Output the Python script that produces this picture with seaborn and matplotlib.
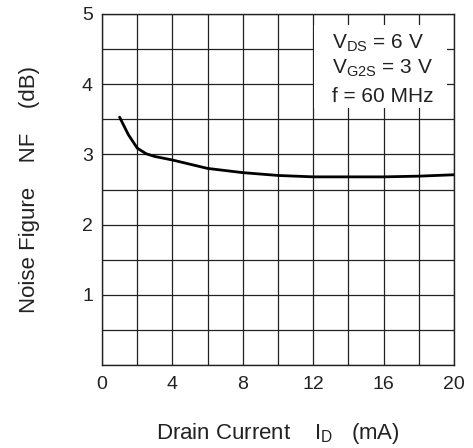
import numpy as np
import pandas as pd
import seaborn as sns
import matplotlib.pyplot as plt
from matplotlib.patches import Rectangle

sns.set_style("white")
plt.rcParams['font.family'] = ['Liberation Sans', 'DejaVu Sans']
plt.rcParams['mathtext.fontset'] = 'custom'
plt.rcParams['mathtext.rm'] = 'Liberation Sans'
plt.rcParams['mathtext.it'] = 'Liberation Sans'

# values
drain_current = [1.0, 1.5, 2.0, 2.5, 3.0, 4.0, 5.0, 6.0, 8.0, 10.0, 12.0, 14.0, 16.0, 18.0, 20.0]
noise_figure = [3.53, 3.28, 3.09, 3.01, 2.97, 2.92, 2.86, 2.80, 2.74, 2.70, 2.68, 2.68, 2.68, 2.69, 2.71]
x_ticks = [0, 4, 8, 12, 16, 20]
y_ticks = [1, 2, 3, 4, 5]

df = pd.DataFrame({"ID": drain_current, "NF": noise_figure})

fig = plt.figure(figsize=(4.73, 4.48), dpi=100)
ax = fig.add_axes([0.2156, 0.185, 0.7444, 0.784])

sns.lineplot(data=df, x="ID", y="NF", color="black", linewidth=2, ax=ax)

ax.set_xlim(0, 20)
ax.set_ylim(0, 5)
ax.set_xticks(np.arange(0, 21, 2))
ax.set_yticks(np.arange(0, 5.01, 0.5))
ax.set_xticklabels([str(v) if v in x_ticks else "" for v in range(0, 21, 2)])
ax.set_yticklabels([str(int(v)) if v in y_ticks else "" for v in np.arange(0, 5.01, 0.5)])
ax.grid(True, color="#222222", linewidth=0.9)
ax.tick_params(length=0, labelsize=14, colors="#222222")
ax.tick_params(axis="x", pad=8)
ax.tick_params(axis="y", pad=6.5)
for s in ax.spines.values():
    s.set_color("#222222")
    s.set_linewidth(1.0)

# white box behind the conditions text
ax.add_patch(Rectangle((12.05, 3.66), 7.55, 1.18, facecolor="white", edgecolor="none", zorder=2.5))
ax.text(13.05, 4.58, r"V$_{\rm DS}$ = 6 V", fontsize=15, va="center", zorder=3, color="#222222")
ax.text(13.05, 4.23, r"V$_{\rm G2S}$ = 3 V", fontsize=15, va="center", zorder=3, color="#222222")
ax.text(13.05, 3.83, "f = 60 MHz", fontsize=15, va="center", zorder=3, color="#222222")

ax.set_xlabel(r"Drain Current    I$_{\rm D}$   (mA)", fontsize=16, labelpad=20, color="#222222")
ax.set_ylabel("Noise Figure    NF    (dB)", fontsize=16, labelpad=30, color="#222222")

fig.savefig("out.png", dpi=100)
